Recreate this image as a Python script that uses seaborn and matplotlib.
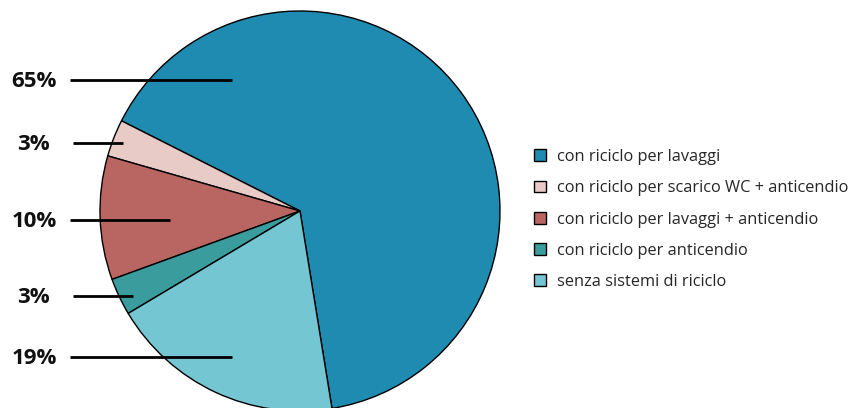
import matplotlib
matplotlib.use('Agg')
import matplotlib.pyplot as plt
import seaborn as sns
from matplotlib.patches import Patch

categories = ['con riciclo per lavaggi',
              'con riciclo per scarico WC + anticendio',
              'con riciclo per lavaggi + anticendio',
              'con riciclo per anticendio',
              'senza sistemi di riciclo']
shares = [65, 3, 10, 3, 19]
pct_labels = ['65%', '3%', '10%', '3%', '19%']
colors = ['#1f8bb0', '#e8cbc6', '#b96562', '#3a9c9c', '#74c6d2']

sns.set_style('white')
plt.rcParams['font.family'] = ['Open Sans', 'DejaVu Sans']

fig = plt.figure(figsize=(8.54, 4.08), dpi=100)
ax = fig.add_axes([0, 0, 1, 1])
ax.axis('off')

ax.pie(shares, colors=colors, startangle=-80.8, counterclock=True,
       center=(300, 197), radius=200,
       wedgeprops=dict(edgecolor='black', linewidth=1))
ax.set_xlim(0, 854)
ax.set_ylim(0, 408)
ax.set_aspect('equal')

# leader lines and labels (screen y converted to bottom-up)
label_y = [328, 265, 188, 112, 51]
line_x0 = [70, 73, 70, 73, 70]
line_x1 = [232, 123, 170, 133, 232]
text_x = [57, 50, 57, 50, 57]
for lab, y, x0, x1, tx in zip(pct_labels, label_y, line_x0, line_x1, text_x):
    ax.plot([x0, x1], [y, y], color='black', linewidth=2, solid_capstyle='butt')
    ax.text(tx, y - 1.5, lab, ha='right', va='center', fontsize=16,
            fontweight='bold', color='#111111')

handles = [Patch(facecolor=c, edgecolor='black', linewidth=1) for c in colors]
ax.legend(handles, categories, loc='center left', bbox_to_anchor=(0.6175, 0.462),
          frameon=False, fontsize=11.8, handlelength=0.74, handleheight=0.74,
          handletextpad=0.64, labelspacing=0.93, borderaxespad=0)

fig.savefig('out.png', dpi=100)
